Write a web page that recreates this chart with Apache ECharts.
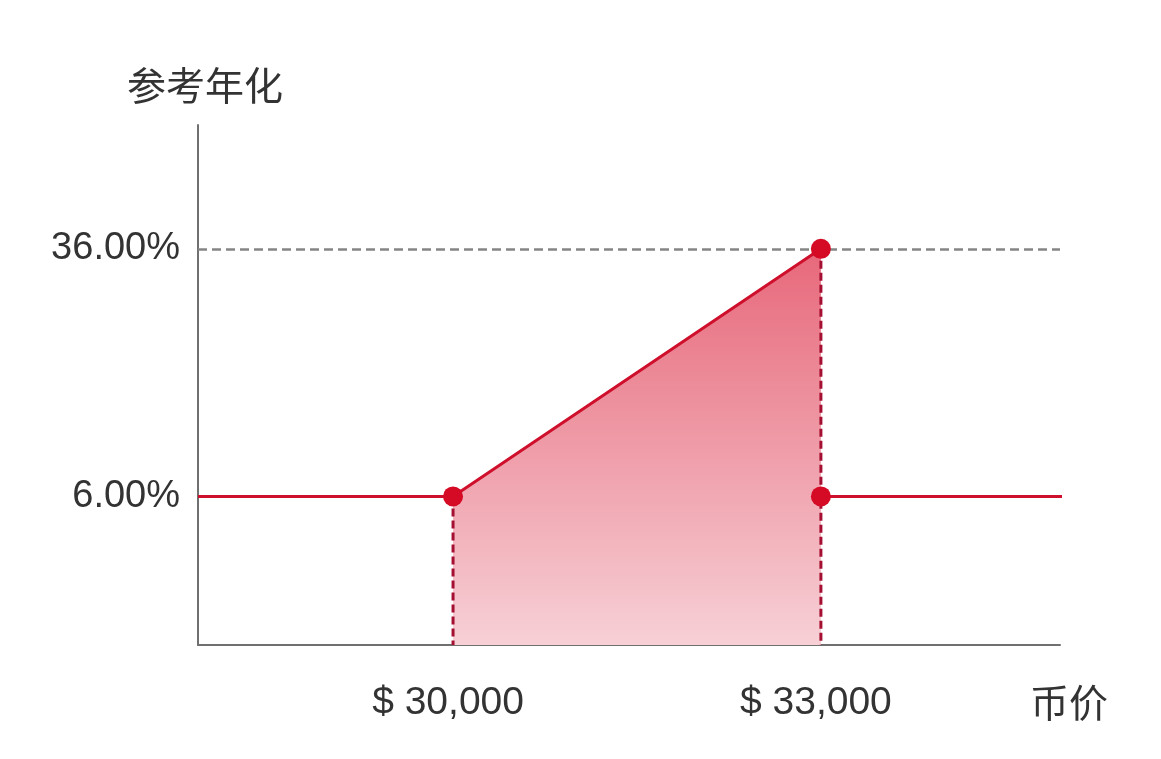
<!DOCTYPE html>
<html>
<head>
<meta charset="utf-8">
<script src="https://cdn.jsdelivr.net/npm/echarts@6/dist/echarts.min.js"></script>
<style>
  html, body { margin: 0; padding: 0; background: #fff; }
  #chart { width: 1161px; height: 759px; }
</style>
</head>
<body>
<div id="chart"></div>
<script>
// price range shown on the x axis
const xRange = [27920, 34950];
const yRange = [-12, 51];

// key price points and their annualised yield (%)
const priceTicks = [30000, 33000];
const yieldTicks = [6, 36];

const leftFlat = [[27920, 6], [30000, 6]];
const rampLine = [[30000, 6], [33000, 36]];
const rightFlat = [[33000, 6], [35010, 6]];
const dots = [[30000, 6], [33000, 36], [33000, 6]];
const dropLow = [[30000, 6], [30000, -12]];
const dropHigh = [[33000, 36], [33000, -12]];

const red = '#cf102c';
const dotRed = '#d50a25';
const darkRed = '#a50f32';
const fontNum = '"Liberation Sans", Arial, sans-serif';
const fontCjk = '"Noto Sans CJK SC", sans-serif';

const chart = echarts.init(document.getElementById('chart'));
const option = {
    animation: false,
    grid: { left: 198, right: 101, top: 125, bottom: 114, outerBoundsMode: 'none' },
    xAxis: {
        type: 'value',
        min: xRange[0],
        max: xRange[1],
        name: '币价',
        nameLocation: 'end',
        nameGap: -30,
        nameTextStyle: {
            fontFamily: fontCjk,
            fontSize: 39,
            color: '#333',
            align: 'left',
            verticalAlign: 'top',
            lineHeight: 114
        },
        axisLine: { onZero: false, lineStyle: { color: '#707070', width: 2 } },
        axisTick: { show: false },
        splitLine: { show: false },
        axisLabel: {
            customValues: priceTicks,
            margin: 39,
            fontFamily: fontNum,
            fontSize: 39,
            color: '#333',
            padding: [0, 10, 0, 0],
            formatter: v => '$ ' + v.toLocaleString('en-US')
        }
    },
    yAxis: {
        type: 'value',
        min: yRange[0],
        max: yRange[1],
        name: '参考年化',
        nameLocation: 'end',
        nameGap: 20,
        nameTextStyle: {
            fontFamily: fontCjk,
            fontSize: 39,
            color: '#333',
            padding: [0, 0, 0, 14]
        },
        axisLine: { lineStyle: { color: '#707070', width: 2 } },
        axisTick: { show: false },
        splitLine: { show: false },
        axisLabel: {
            customValues: yieldTicks,
            margin: 18,
            fontFamily: fontNum,
            fontSize: 38,
            color: '#333',
            formatter: v => v.toFixed(2) + '%'
        }
    },
    series: [
        {
            // shaded area under the ramp
            type: 'line',
            data: rampLine,
            symbol: 'none',
            lineStyle: { width: 0 },
            areaStyle: {
                origin: 'start',
                opacity: 1,
                color: new echarts.graphic.LinearGradient(0, 0, 0, 1, [
                    { offset: 0, color: '#e7687a' },
                    { offset: 1, color: '#f7d0d6' }
                ])
            },
            z: 1
        },
        {
            type: 'line',
            data: leftFlat.concat([rampLine[1]]),
            symbol: 'none',
            lineStyle: { color: red, width: 3 },
            markLine: {
                silent: true,
                symbol: 'none',
                label: { show: false },
                lineStyle: { color: '#858585', type: [9, 5], width: 2.5 },
                data: [{ yAxis: 36 }]
            },
            z: 3
        },
        {
            type: 'line',
            data: rightFlat,
            symbol: 'none',
            clip: false,
            lineStyle: { color: red, width: 3 },
            z: 3
        },
        {
            type: 'line',
            data: dropLow,
            symbol: 'none',
            lineStyle: { color: darkRed, width: 3, type: [8, 4] },
            z: 2
        },
        {
            type: 'line',
            data: dropHigh,
            symbol: 'none',
            lineStyle: { color: darkRed, width: 3, type: [8, 4] },
            z: 2
        },
        {
            type: 'scatter',
            data: dots,
            symbolSize: 20,
            itemStyle: { color: dotRed, opacity: 1 },
            z: 5
        }
    ]
};
chart.setOption(option);
window.addEventListener('resize', function () {
    chart.resize();
});
</script>
</body>
</html>
